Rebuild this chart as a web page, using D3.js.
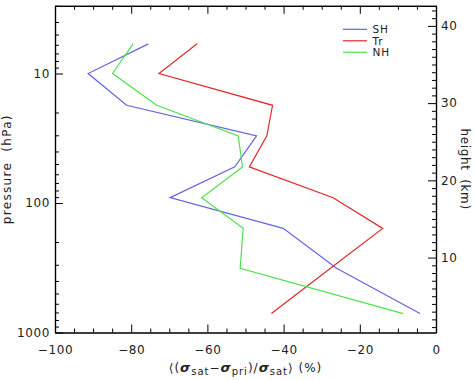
<!DOCTYPE html>
<html>
<head>
<meta charset="utf-8">
<script src="https://cdn.jsdelivr.net/npm/d3@7"></script>
<style>
  html, body { margin: 0; padding: 0; background: #fff; }
  svg text { font-family: "DejaVu Sans", sans-serif; fill: #222; white-space: pre; }
</style>
</head>
<body>
<div id="chart"></div>
<script>
// pressure levels (hPa) shared by the three profiles
const LEVELS = [5.9, 10, 17.6, 30.3, 52.6, 91, 157, 319, 714];
const SH = [-75.5, -91.3, -81.2, -47.1, -52.8, -69.8, -40.1, -26.1, -4.2];
const TR = [-62.7, -72.7, -42.9, -44.4, -49.0, -27.0, -14.0, -27.7, -43.2];
const NH = [-79.5, -84.9, -73.3, -51.9, -50.8, -61.5, -50.6, -51.4, -8.6];
const SERIES = [
  { name: 'SH', values: SH, color: '#6464dc' },
  { name: 'Tr', values: TR, color: '#e02828' },
  { name: 'NH', values: NH, color: '#50e050' },
];
const X_TICKS = [-100, -80, -60, -40, -20, 0];
const P_MAJOR = [10, 100, 1000];
const P_MINOR = [3, 4, 5, 6, 7, 8, 9, 20, 30, 40, 50, 60, 70, 80, 90, 200, 300, 400, 500, 600, 700, 800, 900];
const H_MAJOR = [10, 20, 30, 40];

const W = 475, H = 380;
const box = { left: 55, right: 436, top: 5.8, bottom: 332.5 };

const svg = d3.select('#chart').append('svg')
  .attr('width', W).attr('height', H);

const x = d3.scaleLinear().domain([-100, 0]).range([box.left, box.right]);
const y = d3.scaleLog().domain([1000, 3]).range([box.bottom, box.top]);
const yh = d3.scaleLinear().domain([0.3, 42.6]).range([box.bottom, box.top]);

const xMinor = d3.range(-95, 0, 5).filter(v => v % 20 !== 0);
const hMinor = d3.range(1, 43).filter(v => v % 10 !== 0);

function clean(g) {
  g.selectAll('.domain').attr('stroke', '#000').attr('stroke-width', 1.2);
  g.selectAll('.tick line').attr('stroke', '#000').attr('stroke-width', 1);
  g.selectAll('.tick text').attr('font-size', '12px').attr('fill', '#222')
    .attr('letter-spacing', '0.6px');
}

// bottom axis
svg.append('g').attr('transform', `translate(0,${box.bottom})`)
  .call(d3.axisBottom(x).tickValues(X_TICKS).tickSize(-8).tickSizeOuter(0).tickPadding(13)
    .tickFormat(d => d < 0 ? '\u2212' + Math.abs(d) : d))
  .call(clean);
svg.append('g').attr('transform', `translate(0,${box.bottom})`)
  .call(d3.axisBottom(x).tickValues(xMinor).tickSize(-4).tickSizeOuter(0).tickFormat(''))
  .call(clean);

// top axis
svg.append('g').attr('transform', `translate(0,${box.top})`)
  .call(d3.axisTop(x).tickValues(X_TICKS).tickSize(-8).tickSizeOuter(0).tickFormat(''))
  .call(clean);
svg.append('g').attr('transform', `translate(0,${box.top})`)
  .call(d3.axisTop(x).tickValues(xMinor).tickSize(-4).tickSizeOuter(0).tickFormat(''))
  .call(clean);

// left pressure axis
svg.append('g').attr('transform', `translate(${box.left},0)`)
  .call(d3.axisLeft(y).tickValues(P_MAJOR).tickSize(-8).tickSizeOuter(0).tickPadding(5)
    .tickFormat(d3.format('d')))
  .call(clean);
svg.append('g').attr('transform', `translate(${box.left},0)`)
  .call(d3.axisLeft(y).tickValues(P_MINOR).tickSize(-4).tickSizeOuter(0).tickFormat(''))
  .call(clean);

// right height axis
svg.append('g').attr('transform', `translate(${box.right},0)`)
  .call(d3.axisRight(yh).tickValues(H_MAJOR).tickSize(-8).tickSizeOuter(0).tickPadding(5))
  .call(clean);
svg.append('g').attr('transform', `translate(${box.right},0)`)
  .call(d3.axisRight(yh).tickValues(hMinor).tickSize(-4).tickSizeOuter(0).tickFormat(''))
  .call(clean);

// profiles
const line = d3.line()
  .x(d => x(d[0]))
  .y(d => y(d[1]));

SERIES.forEach(s => {
  svg.append('path')
    .datum(s.values.map((v, i) => [v, LEVELS[i]]))
    .attr('fill', 'none')
    .attr('stroke', s.color)
    .attr('stroke-width', 1.2)
    .attr('d', line);
});

// legend
const leg = svg.append('g').attr('transform', 'translate(343,29.3)');
SERIES.forEach((s, i) => {
  leg.append('line')
    .attr('x1', 0).attr('x2', 24)
    .attr('y1', i * 11.5).attr('y2', i * 11.5)
    .attr('stroke', s.color).attr('stroke-width', 1.2);
  leg.append('text')
    .attr('x', 29.5).attr('y', i * 11.5 + 4)
    .attr('font-size', '10.5px')
    .attr('letter-spacing', '0.8px')
    .text(s.name);
});

// axis titles
svg.append('text')
  .attr('transform', `translate(11,${(box.top + box.bottom) / 2}) rotate(-90)`)
  .attr('text-anchor', 'middle')
  .attr('font-size', '12px')
  .attr('letter-spacing', '1.3px')
  .text('pressure  (hPa)');

svg.append('text')
  .attr('transform', `translate(461,${(box.top + box.bottom) / 2}) rotate(90)`)
  .attr('text-anchor', 'middle')
  .attr('font-size', '12px')
  .attr('letter-spacing', '0.6px')
  .text('height  (km)');

const xt = svg.append('text')
  .attr('x', (box.left + box.right) / 2)
  .attr('y', 372)
  .attr('text-anchor', 'middle')
  .attr('font-size', '12px')
  .attr('letter-spacing', '1px');
xt.append('tspan').text('\u27E8(');
xt.append('tspan').attr('font-weight', 'bold').attr('font-style', 'italic').attr('font-size', '13px').text('\u03C3');
xt.append('tspan').attr('font-size', '10px').attr('dy', 3).text('sat');
xt.append('tspan').attr('dy', -3).text('\u2212');
xt.append('tspan').attr('font-weight', 'bold').attr('font-style', 'italic').attr('font-size', '13px').text('\u03C3');
xt.append('tspan').attr('font-size', '10px').attr('dy', 3).text('pri');
xt.append('tspan').attr('dy', -3).text(')/');
xt.append('tspan').attr('font-weight', 'bold').attr('font-style', 'italic').attr('font-size', '13px').text('\u03C3');
xt.append('tspan').attr('font-size', '10px').attr('dy', 3).text('sat');
xt.append('tspan').attr('dy', -3).text('\u27E9 (%)');
</script>
</body>
</html>
